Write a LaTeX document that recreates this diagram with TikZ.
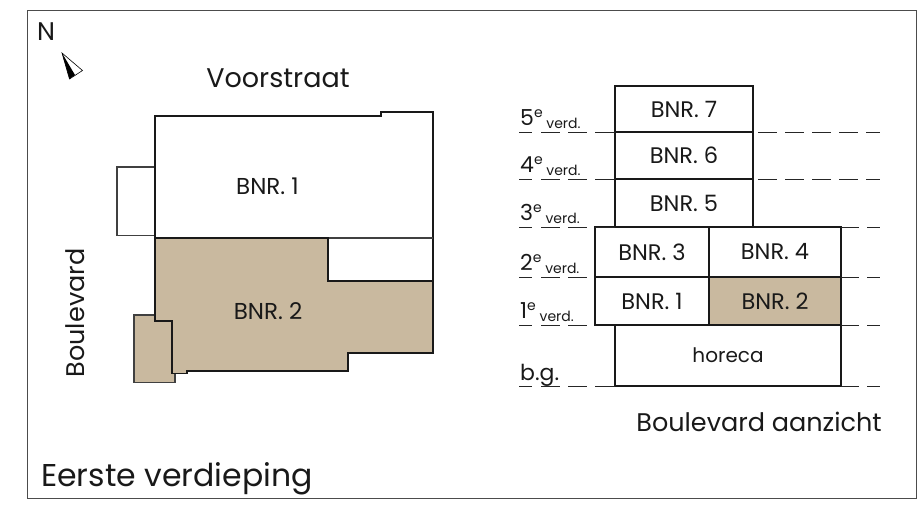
\documentclass[tikz,border=0pt]{standalone}
\usepackage{fontspec}
\setmainfont{Poppins}
\usetikzlibrary{positioning}
\definecolor{bnrtan}{HTML}{C9B99F}
\tikzset{
	wall/.style={draw=black!90, line width=1.4pt},
	wallthin/.style={draw=black!75, line width=1.2pt},
	unit/.style={draw=black!90, line width=1.4pt, inner sep=0pt, outer sep=0pt, text=black!90, font=\fontsize{22.5}{24}\selectfont},
	levelline/.style={draw=black!85, line width=1pt},
	levellabel/.style={anchor=base west, inner sep=0pt, text=black!90, font=\fontsize{22}{24}\selectfont},
	plantext/.style={inner sep=0pt, text=black!90, font=\fontsize{23}{25}\selectfont},
	bigtext/.style={inner sep=0pt, text=black!90, font=\fontsize{25.5}{28}\selectfont},
}
\newcommand{\verd}[2]{#1\raisebox{.62ex}{\fontsize{14}{15}\selectfont #2}\raisebox{-3pt}{\fontsize{14}{15}\selectfont\ verd.}}
\begin{document}
\begin{tikzpicture}[x=1pt, y=-1pt]
	\useasboundingbox (0,0) rectangle (923,509);
	\draw[draw=black!70, line width=1pt] (27,10.5) rectangle (916,498);
	% north arrow
	\node[bigtext, anchor=base west] (north) at (37,40) {N};
	\draw[black, line width=.6pt, fill=white] (62,53) -- (82.5,70.5) -- (69.5,79) -- cycle;
	\fill[black] (62,53) -- (75,75) -- (69.5,79) -- cycle;
	% floor plan
	\draw[wallthin] (155,167) -- (117,167) -- (117,235.5) -- (155,235.5);
	\draw[wall] (155,238) -- (155,116) -- (381,116) -- (381,112) -- (433,112) -- (433,281);
	\draw[wallthin] (328,238) -- (433,238);
	\filldraw[wallthin, fill=bnrtan] (155,315) -- (134,315) -- (134,382.5) -- (175,382.5) -- (175,373) -- (172,373) -- (172,321) -- (155,321) -- cycle;
	\filldraw[wall, fill=bnrtan] (155,238) -- (328,238) -- (328,281) -- (433,281) -- (433,353) -- (348,353) -- (348,371) -- (187,371) -- (187,373.5) -- (172,373.5) -- (172,321) -- (155,321) -- cycle;
	\node[plantext] (plan1) at (267.5,186) {BNR. 1};
	\node[plantext] (plan2) at (268,311) {BNR. 2};
	\node[bigtext, font=\fontsize{27}{30}\selectfont] (voorstraat) at (278,78) {Voorstraat};
	\node[bigtext, rotate=90] (boulevard) at (75,313) {Boulevard};
	% elevation
	\node[unit, minimum width=138pt, minimum height=46pt, anchor=north west] (b7) at (615,86) {BNR. 7};
	\node[unit, minimum width=138pt, minimum height=47pt, below=0pt of b7] (b6) {BNR. 6};
	\node[unit, minimum width=138pt, minimum height=48pt, below=0pt of b6] (b5) {BNR. 5};
	\node[unit, minimum width=114pt, minimum height=50pt, anchor=north west] (b3) at (595,227) {BNR. 3};
	\node[unit, minimum width=132pt, minimum height=50pt, right=0pt of b3] (b4) {BNR. 4};
	\node[unit, minimum width=114pt, minimum height=48pt, below=0pt of b3] (b1) {BNR. 1};
	\node[unit, minimum width=132pt, minimum height=48pt, fill=bnrtan, below=0pt of b4] (b2) {BNR. 2};
	\node[unit, minimum width=226pt, minimum height=61pt, anchor=north west, font=\fontsize{20}{22}\selectfont] (horeca) at (615,325) {horeca};
	% level lines
	\foreach \lname/\ly in {five/132,four/179,three/227,two/277,one/325,bg/386}{
		\coordinate (l\lname) at (519,\ly);
		\coordinate (r\lname) at (880,\ly);
	}
	\foreach \lname/\lnode in {five/b7.south west,four/b6.south west,three/b5.south west,two/b3.south west,one/b1.south west,bg/horeca.south west}
		\draw[levelline, dash pattern=on 13pt off 9pt on 19pt off 8pt on 19pt off 8pt on 40pt off 200pt] (l\lname) -- (\lnode);
	\foreach \lname/\lnode in {five/b7.south east,four/b6.south east}
		\draw[levelline, dash pattern=on 19pt off 8pt, dash phase=22pt] (\lnode) -- (r\lname);
	\draw[levelline, dash pattern=on 18pt off 8pt] (b4.north east) -- (rthree);
	\draw[levelline, dash pattern=on 18pt off 8pt] (b4.south east) -- (rtwo);
	\draw[levelline, dash pattern=on 18pt off 8pt] (b2.south east) -- (rone);
	\draw[levelline, dash pattern=on 18pt off 8pt] (horeca.south east) -- (rbg);
	\node[levellabel] (v5) at (520,125) {\verd{5}{e}};
	\node[levellabel] (v4) at (520,172) {\verd{4}{e}};
	\node[levellabel] (v3) at (520,220) {\verd{3}{e}};
	\node[levellabel] (v2) at (520,270) {\verd{2}{e}};
	\node[levellabel] (v1) at (520,318) {\verd{1}{e}};
	\node[levellabel] (vbg) at (520,380) {b.g.};
	\node[bigtext] (aanzicht) at (759,422) {Boulevard aanzicht};
	\node[bigtext, font=\fontsize{31.5}{34}\selectfont, anchor=base west] (title) at (41,486) {Eerste verdieping};
\end{tikzpicture}
\end{document}
